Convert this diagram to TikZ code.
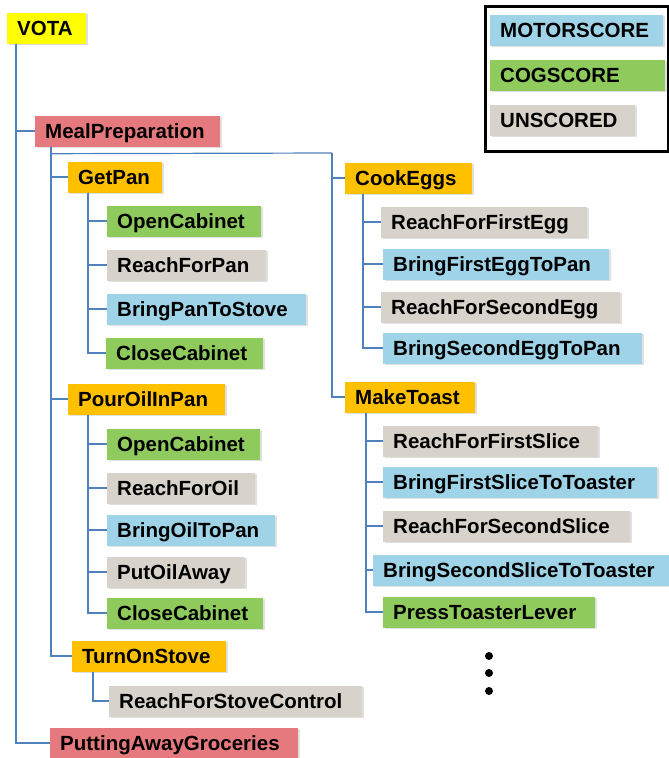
\documentclass[tikz,border=0pt]{standalone}
\usepackage{fontspec}
\setmainfont{Liberation Sans}
\usetikzlibrary{shadows,calc}
\definecolor{cyel}{HTML}{FFFF00}
\definecolor{cred}{HTML}{E6797D}
\definecolor{corg}{HTML}{FFC000}
\definecolor{cgrn}{HTML}{8FCB5C}
\definecolor{cblu}{HTML}{9ED3E8}
\definecolor{cgry}{HTML}{D7D3CA}
\definecolor{cline}{HTML}{4F81BD}
\tikzset{
  bx/.style={rectangle, anchor=west, inner xsep=10pt, inner ysep=0pt,
    minimum height=31pt, text height=14.5pt, text depth=0pt, align=left,
    font=\fontsize{20.5}{24}\selectfont\bfseries,
    drop shadow={opacity=0.12, shadow xshift=1.5pt, shadow yshift=-1.5pt, fill=black}},
  bw/.code={\pgfmathsetmacro\tmpw{#1-20}\edef\tmpx{\noexpand\tikzset{text width=\tmpw pt}}\tmpx},
  yel/.style={bx, fill=cyel},
  red/.style={bx, fill=cred},
  org/.style={bx, fill=corg},
  grn/.style={bx, fill=cgrn},
  blu/.style={bx, fill=cblu},
  gry/.style={bx, fill=cgry},
  conn/.style={draw=cline, line width=1.2pt},
}
\begin{document}
\begin{tikzpicture}[x=1pt,y=-1pt]
\useasboundingbox[fill=white] (0,0) rectangle (669,758);
% left tree
\node[yel, bw=79] (vota) at (7,28) {VOTA};
\node[red, bw=185] (mp) at (35,131) {MealPreparation};
\node[org, bw=94] (getpan) at (68,177) {GetPan};
\node[grn, bw=154] (oc1) at (107,221) {OpenCabinet};
\node[gry, bw=159] (rfp) at (107,265) {ReachForPan};
\node[blu, bw=199] (bpts) at (107,309) {BringPanToStove};
\node[grn, bw=157] (cc1) at (106,353) {CloseCabinet};
\node[org, bw=157] (poip) at (68,399) {PourOilInPan};
\node[grn, bw=153] (oc2) at (107,444) {OpenCabinet};
\node[gry, bw=148] (rfo) at (107,488) {ReachForOil};
\node[blu, bw=168] (botp) at (107,530) {BringOilToPan};
\node[gry, bw=138] (poa) at (107,572) {PutOilAway};
\node[grn, bw=156] (cc2) at (107,613) {CloseCabinet};
\node[org, bw=154] (tos) at (72,656) {TurnOnStove};
\node[gry, bw=253] (rfsc) at (109,701) {ReachForStoveControl};
\node[red, bw=248] (pag) at (50,743) {PuttingAwayGroceries};
% right tree
\node[org, bw=127] (ce) at (345,178) {CookEggs};
\node[gry, bw=206] (rffe) at (381,222) {ReachForFirstEgg};
\node[blu, bw=226] (bfetp) at (383,264) {BringFirstEggToPan};
\node[gry, bw=239] (rfse) at (381,307) {ReachForSecondEgg};
\node[blu, bw=259] (bsetp) at (383,348) {BringSecondEggToPan};
\node[org, bw=130] (mt) at (345,397) {MakeToast};
\node[gry, bw=215] (rffs) at (383,441) {ReachForFirstSlice};
\node[blu, bw=274] (bfstt) at (383,482) {BringFirstSliceToToaster};
\node[gry, bw=247] (rfss) at (383,526) {ReachForSecondSlice};
\node[blu, bw=296] (bsstt) at (373,570) {BringSecondSliceToToaster};
\node[grn, bw=212] (ptl) at (383,612) {PressToasterLever};
% legend
\node[draw=black, line width=3pt, minimum width=183pt, minimum height=145pt, anchor=north west, inner sep=0pt] (legend) at (484,5) {};
\node[blu, bw=173] (lmotor) at (490,30) {MOTORSCORE};
\node[grn, bw=175] (lcog) at (490,75) {COGSCORE};
\node[gry, bw=145] (lun) at (490,120) {UNSCORED};
% connectors
\coordinate (rtop) at (332,153);
\draw[conn] ($(vota.south west)+(9,0)$) |- (pag.west);
\draw[conn] ($(vota.south west)+(9,0)$) |- (mp.west);
\draw[conn] ($(mp.south west)+(16,0)$) |- (tos.west);
\draw[conn] ($(mp.south west)+(16,0)$) |- (getpan.west);
\draw[conn] ($(mp.south west)+(16,0)$) |- (poip.west);
\draw[conn] ($(mp.south west)+(16,0)$) -- ++(0,7) -- (rtop);
\draw[conn] (rtop) |- (ce.west);
\draw[conn] (rtop) |- (mt.west);
\foreach \c in {oc1,rfp,bpts,cc1}{\draw[conn] ($(getpan.south west)+(20,0)$) |- (\c.west);}
\foreach \c in {oc2,rfo,botp,poa,cc2}{\draw[conn] ($(poip.south west)+(20,0)$) |- (\c.west);}
\draw[conn] ($(tos.south west)+(21,0)$) |- (rfsc.west);
\foreach \c in {rffe,bfetp,rfse,bsetp}{\draw[conn] ($(ce.south west)+(18,0)$) |- (\c.west);}
\foreach \c in {rffs,bfstt,rfss,bsstt,ptl}{\draw[conn] ($(mt.south west)+(21,0)$) |- (\c.west);}
% dots
\fill (489,656) circle (4);
\fill (489,673) circle (4);
\fill (489,691) circle (4);
\end{tikzpicture}
\end{document}
